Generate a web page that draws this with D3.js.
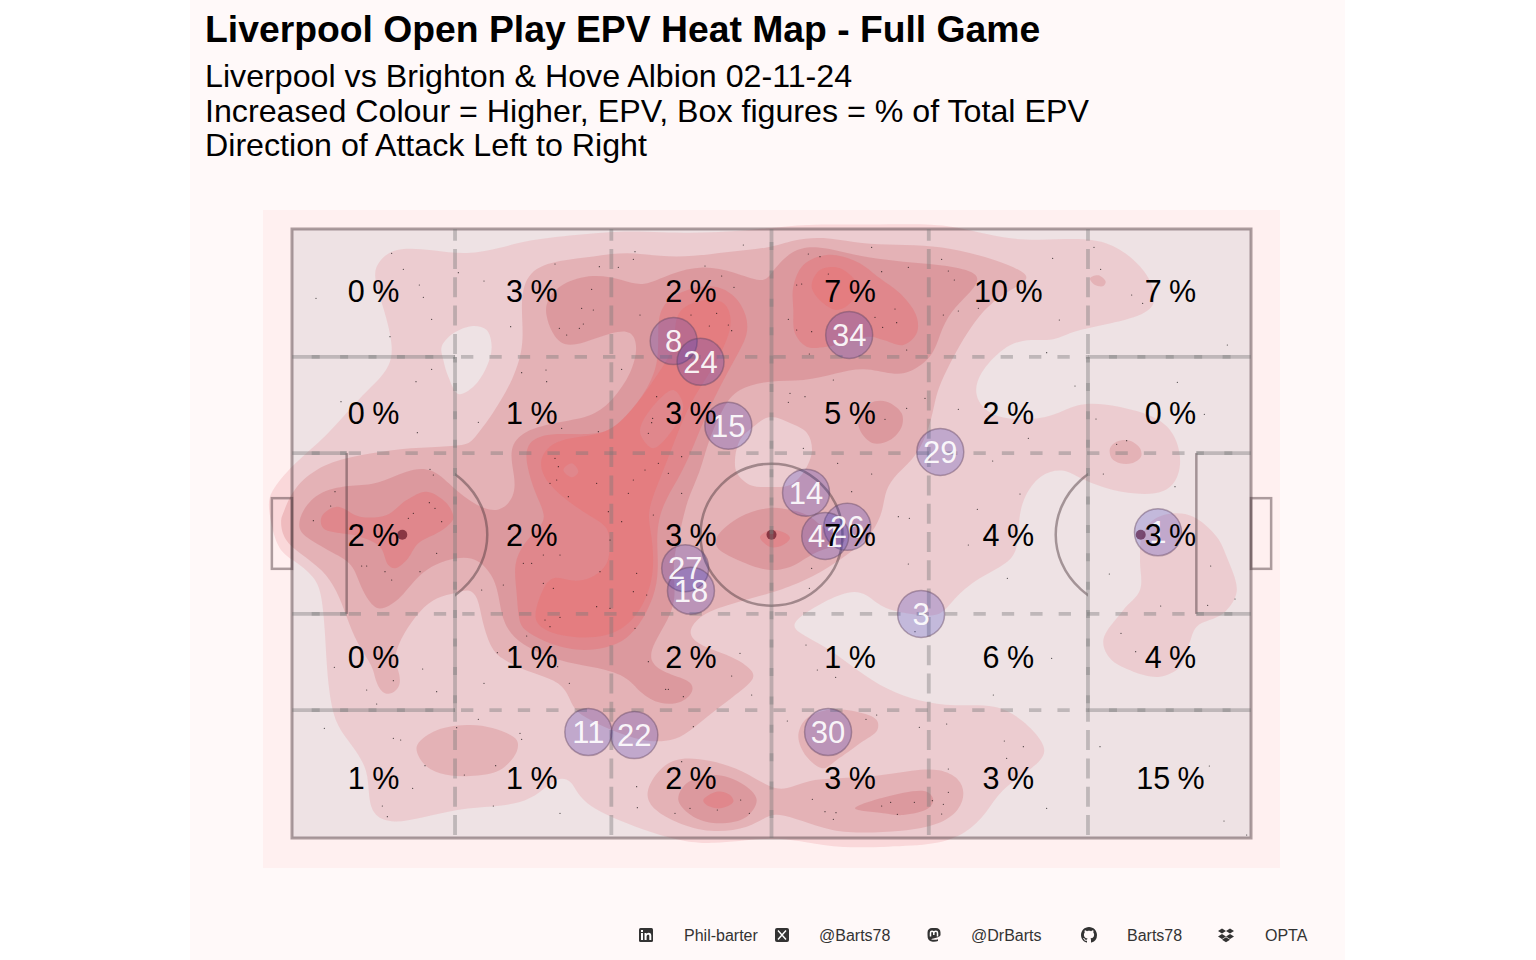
<!DOCTYPE html>
<html>
<head>
<meta charset="utf-8">
<script src="https://cdn.jsdelivr.net/npm/d3@7"></script>
<style>
body { margin:0; background:#fff; }
text { font-family:"Liberation Sans", Arial, sans-serif; }
</style>
</head>
<body>
<svg id="chart" width="1536" height="960"></svg>
<script>
var titleText = "Liverpool Open Play EPV Heat Map - Full Game";
var subtitleLines = ["Liverpool vs Brighton & Hove Albion 02-11-24",
                     "Increased Colour = Higher, EPV, Box figures = % of Total EPV",
                     "Direction of Attack Left to Right"];

// zone figures, one list per row, read left to right
var zoneColumns = [8.5, 25, 41.6, 58.2, 74.7, 91.6];
var zoneRows = [89.8, 69.8, 49.8, 29.8, 9.8];
var zonePct = [[0,3,2,7,10,7],
               [0,1,3,5,2,0],
               [2,2,3,7,4,3],
               [0,1,2,1,6,4],
               [1,1,2,3,3,15]];

// players: shirt number and average position, opta pitch units
var playerNumbers = [8, 24, 34, 15, 29, 14, 26, 41, 27, 18, 3, 1, 11, 22, 30];
var playerX = [39.8, 42.6, 58.1, 45.5, 67.6, 53.6, 57.9, 55.6, 41.0, 41.6, 65.6, 90.3, 30.9, 35.7, 55.9];
var playerY = [81.6, 78.2, 82.6, 67.7, 63.4, 56.7, 51.1, 49.6, 44.3, 40.6, 36.8, 50.2, 17.4, 16.9, 17.4];

var footerLabels = ["Phil-barter", "@Barts78", "@DrBarts", "Barts78", "OPTA"];

// density bands, on a finer pitch grid (2877 x 1827)
var level1Rings = [
 [[244,1684],[254,1724],[304,1774],[424,1764],[524,1749],[624,1769],[704,1794],[854,1809],[984,1822],[1104,1817],[1254,1814],[1434,1829],[1534,1842],[1734,1839],[1934,1844],[2034,1824],[2134,1799],[2234,1792],[2384,1802],[2474,1779],[2564,1704],[2599,1614],[2564,1569],[2434,1539],[2334,1519],[2284,1489],[2204,1499],[2134,1474],[2059,1394],[2044,1324],[2094,1264],[2194,1252],[2284,1264],[2354,1304],[2434,1304],[2534,1284],[2634,1244],[2669,1154],[2662,1084],[2624,1034],[2534,1029],[2434,1049],[2354,1084],[2314,1109],[2244,1094],[2194,1024],[2179,954],[2179,874],[2154,824],[2044,774],[1974,704],[1944,664],[1874,669],[1774,684],[1724,734],[1674,744],[1584,704],[1499,649],[1509,619],[1604,574],[1694,504],[1784,444],[1884,409],[1984,394],[2114,404],[2194,354],[2259,284],[2259,244],[2214,204],[2124,144],[2084,74],[2024,14],[1934,-21],[1784,-26],[1654,-31],[1534,-11],[1434,4],[1254,-21],[1154,-6],[1054,24],[954,64],[894,94],[854,134],[839,174],[794,184],[744,134],[684,104],[604,94],[504,89],[384,59],[304,44],[244,64],[229,124],[229,204],[184,274],[134,334],[114,414],[104,514],[99,624],[89,734],[69,784],[4,834],[-46,864],[-71,984],[-71,1034],[4,1124],[104,1204],[204,1324],[284,1394],[309,1464],[274,1594]],
 [[449,1474],[484,1514],[544,1536],[584,1524],[599,1474],[584,1414],[544,1354],[499,1332],[469,1384],[454,1434]],
 [[2544,834],[2544,744],[2494,684],[2434,594],[2454,539],[2524,499],[2604,484],[2664,514],[2692,584],[2714,634],[2794,674],[2834,739],[2804,844],[2774,904],[2704,964],[2644,974],[2584,954],[2549,904]]
];
var level2Rings = [
 [[704,1704],[804,1734],[904,1744],[1004,1759],[1104,1744],[1204,1744],[1304,1759],[1434,1769],[1504,1796],[1594,1804],[1684,1786],[1784,1779],[1894,1779],[2004,1764],[2114,1734],[2209,1694],[2204,1669],[2134,1634],[2074,1584],[2024,1514],[1984,1444],[1944,1364],[1929,1314],[1914,1234],[1874,1144],[1814,1094],[1779,1044],[1774,984],[1744,914],[1674,854],[1584,794],[1494,754],[1434,734],[1304,699],[1234,674],[1194,634],[1194,599],[1244,569],[1324,544],[1384,504],[1389,474],[1324,424],[1244,364],[1174,304],[1124,289],[1054,289],[954,324],[894,354],[844,384],[829,434],[794,474],[704,499],[624,539],[594,574],[569,654],[559,724],[529,749],[494,734],[434,724],[384,684],[334,614],[304,544],[319,504],[329,459],[299,429],[269,434],[249,474],[244,514],[194,584],[164,664],[134,744],[94,804],[24,854],[-26,894],[-36,954],[-26,974],[4,1054],[94,1124],[204,1149],[324,1169],[454,1174],[524,1179],[544,1194],[604,1274],[664,1374],[699,1484],[684,1604]],
 [[1383,1233],[1434,1263],[1494,1245],[1545,1215],[1560,1164],[1539,1104],[1494,1059],[1434,1053],[1374,1059],[1335,1095],[1329,1134],[1344,1194]],
 [[2454,1169],[2474,1189],[2514,1192],[2544,1169],[2547,1144],[2519,1124],[2484,1124],[2459,1139]],
 [[2394,1679],[2419,1688],[2441,1669],[2434,1656],[2409,1659]],
 [[374,274],[424,319],[524,339],[604,329],[674,294],[674,259],[624,204],[534,186],[444,194],[394,224]],
 [[1054,134],[1104,214],[1164,244],[1254,234],[1354,204],[1434,149],[1484,144],[1544,174],[1634,179],[1754,184],[1864,204],[1944,209],[2004,179],[2019,134],[2004,84],[1944,39],[1834,19],[1684,14],[1604,24],[1484,69],[1434,74],[1374,29],[1254,14],[1154,44],[1084,84]],
 [[1519,304],[1539,354],[1604,384],[1694,379],[1754,354],[1756,324],[1704,284],[1634,234],[1594,209],[1544,244]]
];
var level3Rings = [
 [[759,1574],[764,1614],[804,1664],[904,1694],[994,1674],[1054,1652],[1134,1694],[1234,1719],[1324,1699],[1414,1664],[1434,1689],[1494,1764],[1574,1779],[1684,1749],[1784,1734],[1884,1724],[1994,1714],[2074,1689],[2034,1634],[1974,1579],[1944,1514],[1924,1444],[1854,1394],[1804,1389],[1714,1414],[1634,1394],[1534,1369],[1434,1374],[1334,1349],[1294,1294],[1249,1194],[1224,1094],[1184,1014],[1164,914],[1139,824],[1154,724],[1129,654],[1084,584],[1069,529],[1119,494],[1194,474],[1209,444],[1174,404],[1104,399],[1044,434],[1004,489],[904,514],[804,529],[684,579],[629,644],[619,754],[584,814],[529,854],[394,814],[334,724],[274,684],[244,689],[204,754],[184,824],[124,854],[54,894],[14,924],[29,984],[84,1044],[184,1059],[254,1059],[344,1104],[419,1114],[479,1054],[554,994],[624,974],[669,1024],[669,1084],[649,1169],[694,1224],[804,1249],[904,1264],[964,1314],[1019,1394],[1039,1474],[1019,1524],[964,1519],[874,1484],[814,1474],[779,1514]],
 [[1275,903],[1344,963],[1434,990],[1494,984],[1545,969],[1605,924],[1659,894],[1569,855],[1494,813],[1434,804],[1359,825],[1275,873]],
 [[1699,1254],[1734,1304],[1784,1309],[1829,1274],[1829,1234],[1794,1194],[1744,1184],[1709,1214]],
 [[1159,114],[1184,164],[1274,189],[1364,154],[1394,114],[1364,64],[1284,44],[1204,64]],
 [[1689,89],[1784,124],[1904,139],[1924,114],[1909,89],[1834,69],[1774,74]]
];
var level4Rings = [
 [[1094,1544],[1114,1609],[1184,1649],[1284,1664],[1354,1604],[1374,1524],[1344,1464],[1294,1374],[1244,1274],[1204,1174],[1169,1094],[1119,1014],[1099,954],[1094,894],[1099,824],[1094,744],[1054,654],[1004,594],[944,569],[854,559],[754,589],[694,624],[679,654],[674,744],[664,824],[694,884],[744,934],[764,964],[729,1034],[704,1114],[699,1184],[764,1219],[924,1204],[984,1244],[1054,1324],[1104,1424]],
 [[1504,1584],[1504,1654],[1534,1719],[1604,1749],[1694,1729],[1764,1679],[1834,1624],[1874,1564],[1874,1514],[1834,1479],[1774,1494],[1734,1504],[1604,1474],[1544,1474],[1509,1514]],
 [[89,964],[134,994],[204,964],[284,969],[344,1014],[404,1039],[464,1004],[484,959],[464,934],[434,914],[379,884],[344,834],[309,809],[289,819],[264,874],[204,904],[94,929]],
 [[1404,903],[1440,924],[1479,915],[1494,900],[1473,879],[1434,873]],
 [[1234,114],[1274,139],[1314,129],[1324,109],[1284,89],[1244,99]]
];
var level5Rings = [
 [[1144,1584],[1234,1619],[1299,1614],[1319,1564],[1314,1514],[1274,1424],[1204,1324],[1164,1234],[1134,1154],[1094,1054],[1064,974],[1079,914],[1089,794],[1054,694],[1004,634],[944,604],[854,599],[774,614],[729,644],[729,684],[754,754],[784,789],[834,769],[894,774],[944,814],[954,854],[954,929],[914,954],[834,1004],[764,1064],[739,1124],[764,1174],[824,1202],[934,1209],[994,1254],[1044,1314],[1114,1414],[1154,1484]],
 [[1044,1224],[1074,1284],[1144,1344],[1174,1294],[1134,1214],[1084,1169],[1054,1194]],
 [[814,1104],[839,1124],[859,1099],[839,1082]],
 [[1559,1654],[1584,1704],[1644,1709],[1699,1654],[1674,1604],[1634,1584],[1594,1604]]
];
var densityLevels = [level1Rings, level2Rings, level3Rings, level4Rings, level5Rings];

// open play events (the speckle), same grid as the bands
var eventPoints = [[299,1754],[334,1706],[382,1659],[394,1622],[72,1619],[419,1556],[294,1504],[656,1534],[789,1722],[922,1714],[979,1712],[1029,1759],[1024,1736],[1239,1716],[1289,1686],[1354,1779],[1326,1652],[499,1696],[576,1671],[869,1589],[899,1646],[904,1584],[802,1529],[824,1509],[862,1529],[874,1542],[1044,1569],[1197,1569],[1274,1574],[1252,1536],[1309,1539],[1319,1522],[419,1406],[372,1369],[147,1309],[559,1247],[376,1216],[689,1396],[762,1404],[764,1369],[989,1406],[1094,1324],[1082,1259],[1079,1246],[1069,1214],[789,1139],[799,1114],[919,1219],[809,1229],[1169,1144],[1129,1094],[1099,1124],[1059,1104],[1024,1074],[914,1064],[829,1024],[774,1064],[794,1074],[1009,1034],[1169,1034],[949,979],[989,949],[1084,969],[414,1106],[424,1089],[364,974],[449,949],[129,1039],[116,996],[64,952],[412,1006],[429,989],[349,959],
 [1549,1752],[1584,1744],[1739,1772],[1609,1692],[1514,1659],[1529,1662],[1769,1699],[1849,1712],[1969,1701],[1987,1674],[1949,1736],[2282,1739],[2426,1706],[2406,1772],[2059,1589],[1999,1581],[1954,1569],[1809,1587],[1749,1562],[1772,1532],[1814,1546],[1559,1519],[1514,1524],[1489,1556],[1844,1464],[1552,1452],[1624,1374],[1494,1334],[1539,1324],[1489,1307],[1844,1289],[1779,1256],[1999,1286],[1899,1319],[2209,1199],[2264,1456],[2302,1554],[2349,1356],[2519,1629],[2552,1604],[2806,1479],[2656,1367],[2737,1271],[2412,1257],[2474,1181],[2504,1192],[2434,1092],[2649,1054],[2184,1032],[2056,986],[2102,1131],[1534,1169],[1637,1124],[1739,1092],[1819,964],[1852,959],[1679,1039],
 [224,444],[127,512],[254,402],[304,472],[392,507],[434,439],[97,329],[304,299],[326,294],[559,356],[494,331],[684,314],[689,296],[399,217],[517,189],[611,217],[362,149],[271,96],[286,64],[604,96],[804,74],[576,464],[616,556],[797,514],[832,464],[1121,446],[1129,446],[1174,424],[1204,334],[1344,554],[1319,486],[1379,429],[1169,229],[1034,154],[1036,91],[1149,74],[1194,89],[1276,84],[1346,114],[1372,74],[1069,529],[704,606],[774,634],[759,654],[804,662],[914,694],[1029,629],[954,689],[1024,739],[1064,729],[1034,794],[754,764],[784,749],[694,824],[719,824],[754,849],[804,849],[924,799],[634,759],[569,744],[384,799],[434,854],[279,799],[299,774],[209,816],[224,816],[954,894],
 [1849,822],[1559,809],[2029,879],[2146,779],[1552,749],[1869,619],[1542,579],[1631,482],[1576,504],[2279,539],[2104,429],[1964,342],[1882,332],[1754,369],[1722,356],[1486,351],[2137,291],[2194,274],[2144,239],[1969,207],[1561,116],[1599,79],[1632,76],[1624,56],[1769,96],[1796,107],[1867,107],[1816,71],[1921,112],[1954,101],[1969,137],[1949,72],[2264,89],[2424,274],[2452,792],[2487,614],[2531,559],[2606,696],[2829,717],[2756,816],[2747,698],[2752,216],[2796,51],[2864,9]];

var bandColours = ["rgba(232,120,128,.2)", "rgba(205,95,100,.24)", "rgba(195,75,85,.24)", "rgba(235,85,90,.26)", "rgba(235,110,110,.4)"];
var lineColour = "rgba(70,50,55,.45)";
var dashColour = "rgba(120,120,120,.4)";

var pitch = {left:292, right:1251, top:229, bottom:838};

// scales
var xScale = d3.scaleLinear().domain([0,100]).range([pitch.left,pitch.right]);
var yScale = d3.scaleLinear().domain([0,100]).range([pitch.bottom,pitch.top]);
var gridX = d3.scaleLinear().domain([0,2877]).range([pitch.left,pitch.right]);
var gridY = d3.scaleLinear().domain([0,1827]).range([pitch.bottom,pitch.top]);

var svg = d3.select("#chart");

var drawBackground = function()
{
    svg.append("rect").attr("x",190).attr("y",0).attr("width",1155).attr("height",960).attr("fill","#fff9f9");
    svg.append("rect").attr("x",263).attr("y",210).attr("width",1017).attr("height",658).attr("fill","#fff0f0");
    svg.append("rect")
        .attr("x",xScale(0)).attr("y",yScale(100))
        .attr("width",xScale(100)-xScale(0)).attr("height",yScale(0)-yScale(100))
        .attr("fill","#eee2e4");
}

var drawTitles = function()
{
    svg.append("text").text(titleText)
        .attr("x",205).attr("y",42)
        .style("font-size","37.3px").style("font-weight","bold");
    svg.selectAll(".subtitle").data(subtitleLines).enter().append("text")
        .classed("subtitle",true)
        .text(function(d){return d})
        .attr("x",205)
        .attr("y",function(d,i){return 87+i*34.5})
        .style("font-size","32.2px");
}

var drawDensity = function()
{
    var smoothLine = d3.line()
        .x(function(p){return gridX(p[0])})
        .y(function(p){return gridY(p[1])})
        .curve(d3.curveBasisClosed);
    var tightLine = d3.line()
        .x(function(p){return gridX(p[0])})
        .y(function(p){return gridY(p[1])})
        .curve(d3.curveCatmullRomClosed.alpha(0.5));

    svg.append("g").classed("density",true)
        .selectAll("path").data(densityLevels).enter().append("path")
        .attr("d",function(rings)
        {
            // long rings carry trace noise, short ones would shrink under a basis curve
            return rings.map(function(r){return r.length>20 ? smoothLine(r) : tightLine(r)}).join("");
        })
        .attr("fill-rule","evenodd")
        .attr("fill",function(d,i){return bandColours[i]});
}

var drawPitch = function()
{
    var g = svg.append("g").classed("pitch",true)
        .attr("fill","none").attr("stroke",lineColour).attr("stroke-width",3);

    var box = function(x0,x1,y0,y1,width)
    {
        g.append("rect")
            .attr("x",xScale(x0)).attr("y",yScale(y1))
            .attr("width",xScale(x1)-xScale(x0)).attr("height",yScale(y0)-yScale(y1))
            .attr("stroke-width",width);
    }
    box(0,100,0,100,3);
    box(-2.1,0,44.2,55.8,2.5);
    box(100,102.1,44.2,55.8,2.5);

    // six yard fronts
    [5.7,94.3].forEach(function(x)
    {
        g.append("line").attr("x1",xScale(x)).attr("x2",xScale(x))
            .attr("y1",yScale(36.8)).attr("y2",yScale(63.2)).attr("stroke-width",2.5);
    });

    // centre circle and the two D's
    g.append("ellipse")
        .attr("cx",xScale(50)).attr("cy",yScale(49.8))
        .attr("rx",xScale(7.4)-xScale(0)).attr("ry",yScale(0)-yScale(11.65))
        .attr("stroke-width",2.5);

    var defs = svg.append("defs");
    defs.append("clipPath").attr("id","clipLeftD").append("rect")
        .attr("x",xScale(17)).attr("y",0).attr("width",200).attr("height",960);
    defs.append("clipPath").attr("id","clipRightD").append("rect")
        .attr("x",xScale(83)-200).attr("y",0).attr("width",200).attr("height",960);
    [[11.5,"clipLeftD"],[88.5,"clipRightD"]].forEach(function(d)
    {
        g.append("ellipse")
            .attr("cx",xScale(d[0])).attr("cy",yScale(49.8))
            .attr("rx",85).attr("ry",77)
            .attr("clip-path","url(#"+d[1]+")")
            .attr("stroke-width",2.5);
    });

    // spots
    var spots = svg.append("g").attr("fill","rgba(100,20,35,.7)");
    [11.5,50,88.5].forEach(function(x)
    {
        spots.append("circle").attr("cx",xScale(x)).attr("cy",yScale(49.8)).attr("r",5);
    });
}

var drawZoneLines = function()
{
    var g = svg.append("g").classed("zones",true)
        .attr("stroke",dashColour).attr("stroke-width",3.8);

    var segV = function(x,y0,y1,dash,offset)
    {
        g.append("line").attr("x1",xScale(x)).attr("x2",xScale(x))
            .attr("y1",yScale(y1)).attr("y2",yScale(y0))
            .attr("stroke-dasharray",dash).attr("stroke-dashoffset",offset);
    }
    var segH = function(y,x0,x1,dash,offset)
    {
        g.append("line").attr("y1",yScale(y)).attr("y2",yScale(y))
            .attr("x1",xScale(x0)).attr("x2",xScale(x1))
            .attr("stroke-dasharray",dash).attr("stroke-dashoffset",offset);
    }
    // uprights run long dashes, cross lines short ones
    var upDash = "20 8.3", acrossDash = "12.3 16.1", shortDash = "8 20.4";

    // box edges read as a pale solid line with short dark overlaps
    [17,83].forEach(function(x)
    {
        segV(x,21,79,null,0);
        segV(x,21,79,shortDash,-26);
        segV(x,79,100,upDash,8.3);
        segV(x,0,21,upDash,8.3);
    });
    [21,79].forEach(function(y)
    {
        segH(y,0,17,null,0);
        segH(y,0,17,shortDash,-19.7);
        segH(y,83,100,null,0);
        segH(y,83,100,shortDash,-21);
        segH(y,17,83,acrossDash,-6);
    });
    [36.8,63.2].forEach(function(y)
    {
        segH(y,0,5.7,null,0);
        segH(y,0,5.7,shortDash,-19.7);
        segH(y,94.3,100,null,0);
        segH(y,94.3,100,shortDash,-28);
        segH(y,5.7,94.3,acrossDash,-2);
    });
    // halfway line sits under its own dark overlaps
    segV(50,0,100,null,0);
    segV(50,0,100,shortDash,-13);
    [33.3,66.4].forEach(function(x){segV(x,0,100,upDash,8.3)});
}

var drawEvents = function()
{
    svg.append("g").classed("events",true)
        .selectAll("circle").data(eventPoints).enter().append("circle")
        .attr("cx",function(p){return gridX(p[0])})
        .attr("cy",function(p){return gridY(p[1])})
        .attr("r",0.6)
        .attr("fill","rgba(0,0,0,.75)");
}

var drawPlayers = function()
{
    var players = svg.append("g").classed("players",true);
    players.selectAll("circle").data(playerNumbers).enter().append("circle")
        .attr("cx",function(d,i){return xScale(playerX[i])})
        .attr("cy",function(d,i){return yScale(playerY[i])})
        .attr("r",23.5)
        .attr("fill","rgba(50,50,190,.23)")
        .attr("stroke","rgba(100,70,100,.45)")
        .attr("stroke-width",1.5);
    players.selectAll("text").data(playerNumbers).enter().append("text")
        .text(function(d){return d})
        .attr("x",function(d,i){return xScale(playerX[i])})
        .attr("y",function(d,i){return yScale(playerY[i])+11})
        .attr("text-anchor","middle")
        .attr("fill","rgba(255,255,255,.92)")
        .style("font-size","31px");
}

var drawZoneFigures = function()
{
    var cells = [];
    zonePct.forEach(function(row,r)
    {
        row.forEach(function(v,c){cells.push({value:v,col:c,row:r})});
    });
    svg.append("g").classed("figures",true)
        .selectAll("text").data(cells).enter().append("text")
        .text(function(d){return d.value+" %"})
        .attr("x",function(d){return xScale(zoneColumns[d.col])})
        .attr("y",function(d){return yScale(zoneRows[d.row])+11})
        .attr("text-anchor","middle")
        .style("font-size","30.5px")
        .style("word-spacing","-1px");
}

var drawFooter = function()
{
    var iconX = [646,782,934,1089,1226];
    var textX = [684,819,971,1127,1265];
    var g = svg.append("g").classed("footer",true);
    g.selectAll("text").data(footerLabels).enter().append("text")
        .text(function(d){return d})
        .attr("x",function(d,i){return textX[i]})
        .attr("y",941)
        .attr("fill","#333")
        .style("font-size","16px");

    var icon = function(i){return g.append("g").attr("transform","translate("+iconX[i]+",935)")}

    // linkedin
    var a = icon(0);
    a.append("rect").attr("x",-7).attr("y",-7).attr("width",14).attr("height",14).attr("rx",1.5).attr("fill","#333");
    a.append("path").attr("fill","#fff")
        .attr("d","M-5-2h2V5h-2zM-5-5h2v2h-2zM-1.5-2h2v1c.6-.8 1.3-1.2 2.2-1.2 1.8 0 2.6 1.1 2.6 3V5h-2V1.2c0-.9-.4-1.4-1.1-1.4-.9 0-1.6.6-1.6 1.6V5h-2z");

    // x
    var b = icon(1);
    b.append("rect").attr("x",-7).attr("y",-7).attr("width",14).attr("height",14).attr("rx",2).attr("fill","#333");
    b.append("path").attr("stroke","#fff").attr("stroke-width",1.4).attr("fill","none")
        .attr("d","M-4-4.5L4 4.5M4-4.5L-4 4.5");

    // mastodon
    var c = icon(2);
    c.append("path").attr("fill","#333")
        .attr("d","M-6.5-2.5C-6.5-5.5-4.5-7-2-7h4C4.5-7 6.5-5.5 6.5-2.5V0C6.5 3-4.5 3.5-2.5 4.5 0 5 2 4.8 4 4.2V6C1 7.2-5.5 7.5-6.3 2.5-6.5 1-6.5-1-6.5-2.5z");
    c.append("path").attr("stroke","#fff").attr("stroke-width",1.5).attr("fill","none")
        .attr("d","M-3.5 1.5V-2.2C-3.5-4.2-.5-4.2-.2-2.2V0M-.2-2.2C.2-4.2 3.5-4.2 3.5-2.2V1.5");

    // github
    icon(3).append("path").attr("fill","#333").attr("transform","translate(-8,-8)")
        .attr("d","M8 0C3.58 0 0 3.58 0 8c0 3.54 2.29 6.53 5.47 7.59.4.07.55-.17.55-.38 0-.19-.01-.82-.01-1.49-2.01.37-2.53-.49-2.69-.94-.09-.23-.48-.94-.82-1.13-.28-.15-.68-.52-.01-.53.63-.01 1.08.58 1.23.82.72 1.21 1.87.87 2.33.66.07-.52.28-.87.51-1.07-1.78-.2-3.64-.89-3.64-3.95 0-.87.31-1.59.82-2.15-.08-.2-.36-1.02.08-2.12 0 0 .67-.21 2.2.82.64-.18 1.32-.27 2-.27.68 0 1.36.09 2 .27 1.53-1.04 2.2-.82 2.2-.82.44 1.1.16 1.92.08 2.12.51.56.82 1.27.82 2.15 0 3.07-1.87 3.75-3.65 3.95.29.25.54.73.54 1.48 0 1.07-.01 1.93-.01 2.2 0 .21.15.46.55.38A8.013 8.013 0 0016 8c0-4.42-3.58-8-8-8z");

    // dropbox
    icon(4).append("path").attr("fill","#333")
        .attr("d","M-4-6.5L0-4-4-1.5-8-4zM4-6.5L8-4 4-1.5 0-4zM-4-1L0 1.5-4 4-8 1.5zM4-1L8 1.5 4 4 0 1.5zM0 2.3L4 4.8 0 7.2-4 4.8z");
}

drawBackground();
drawTitles();
drawDensity();
drawPitch();
drawZoneLines();
drawEvents();
drawPlayers();
drawZoneFigures();
drawFooter();
</script>
</body>
</html>
